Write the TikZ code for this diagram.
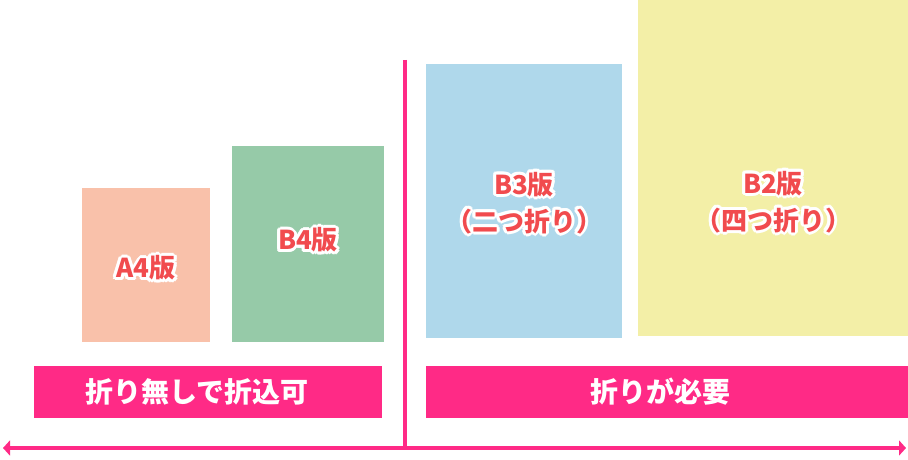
\documentclass[tikz,border=0pt]{standalone}
\usepackage{fontspec}
\newfontfamily\jp{Noto Sans CJK JP}
\usetikzlibrary{calc,arrows.meta}
\definecolor{cA}{HTML}{F9C1AA}
\definecolor{cBf}{HTML}{96CAA8}
\definecolor{cBt}{HTML}{AFD8EB}
\definecolor{cBw}{HTML}{F3EFA7}
\definecolor{pinkc}{HTML}{FF2A86}
\definecolor{redt}{HTML}{F14B4E}
\tikzset{
  sheet/.style={draw=none,inner sep=0pt},
  bartext/.style={text=white,font=\jp\fontsize{28}{32}\selectfont\bfseries,inner sep=0pt},
  labtext/.style={text=redt,font=\jp\fontsize{26}{37}\selectfont\bfseries,align=center,inner sep=0pt},
  halo/.style={labtext,text=white},
  axis/.style={draw=pinkc,line width=3.5pt},
}
\newcommand\olabel[3]{%
  \foreach \a in {0,30,...,330}{\node[halo] at ($(#1)+(\a:3)$) {#3};}
  \node[labtext] (#2) at (#1) {#3};}
\begin{document}
\begin{tikzpicture}[x=1pt,y=-1pt]
\useasboundingbox (0,0) rectangle (908,460);
\fill[cA] (82,188) rectangle (210,342);
\fill[cBf] (232,146) rectangle (384,342);
\fill[cBt] (426,64) rectangle (622,338);
\fill[cBw] (638,0) rectangle (908,336);
\node[sheet,fill=pinkc,minimum width=348pt,minimum height=52pt] (barL) at (208,392) {};
\node[sheet,fill=pinkc,minimum width=482pt,minimum height=52pt] (barR) at (667,392) {};
\node[bartext] (tL) at (197,392) {折り無しで折込可};
\node[bartext] (tR) at (660,392) {折りが必要};
\coordinate (tA) at (146,268);
\coordinate (tB4) at (308,240);
\coordinate (tB3) at (524,203);
\coordinate (tB2) at (773,202);
\olabel{tA}{lA}{A4版}
\olabel{tB4}{lB4}{B4版}
\olabel{tB3}{lB3}{B3版\\（二つ折り）}
\olabel{tB2}{lB2}{B2版\\（四つ折り）}
\coordinate (vt) at (405,60);
\coordinate (vb) at (405,448);
\coordinate (hl) at (3,448);
\coordinate (hr) at (906,448);
\draw[axis] (vt) -- (vb);
\draw[axis,{Triangle[length=7pt,width=15pt]}-{Triangle[length=7pt,width=15pt]}] (hl) -- (hr);
\end{tikzpicture}
\end{document}
